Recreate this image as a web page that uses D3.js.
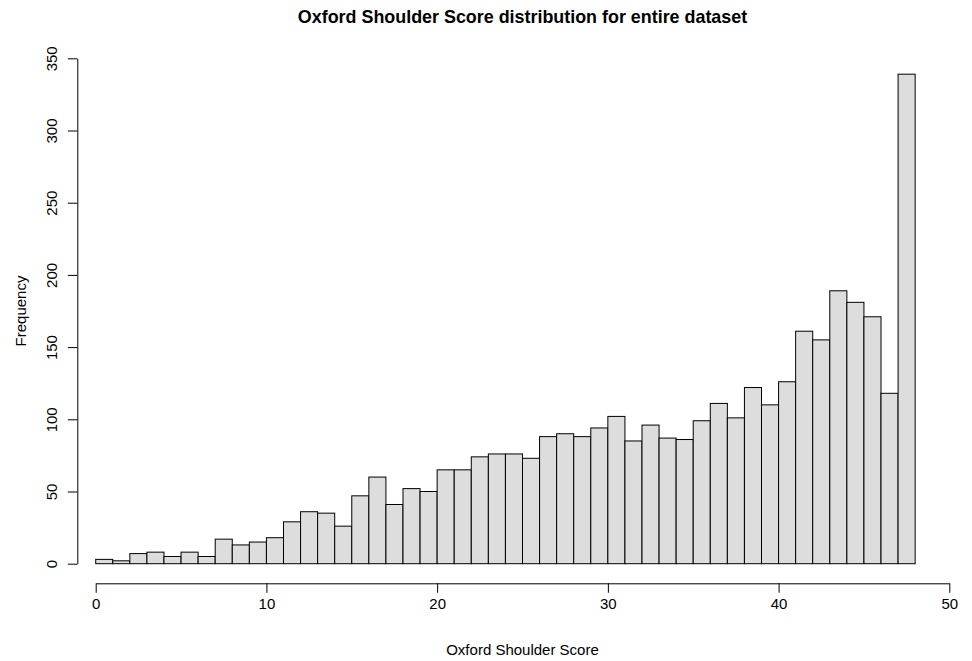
<!DOCTYPE html>
<html>
<head>
<meta charset="utf-8">
<script src="https://cdn.jsdelivr.net/npm/d3@7"></script>
<style>
  html, body { margin: 0; padding: 0; background: #fff; }
  svg { display: block; font-family: "Liberation Sans", Arial, Helvetica, sans-serif; }
</style>
</head>
<body>
<svg id="chart" width="972" height="661"></svg>
<script>
// Data: histogram bins [i, i+1) of Oxford Shoulder Score
const binStarts = d3.range(0, 48);
const frequencies = [3, 2, 7, 8, 5, 8, 5, 17, 13, 15,
                     18, 29, 36, 35, 26, 47, 60, 41, 52, 50,
                     65, 65, 74, 76, 76, 73, 88, 90, 88, 94,
                     102, 85, 96, 87, 86, 99, 111, 101, 122, 110,
                     126, 161, 155, 189, 181, 171, 118, 339];
const xTicks = [0, 10, 20, 30, 40, 50];
const yTicks = [0, 50, 100, 150, 200, 250, 300, 350];
const titleText = "Oxford Shoulder Score distribution for entire dataset";
const xLabel = "Oxford Shoulder Score";
const yLabel = "Frequency";

const svg = d3.select("#chart");
const x = d3.scaleLinear().domain([0, 50]).range([95.7, 949.3]);
const y = d3.scaleLinear().domain([0, 350]).range([563.7, 58.3]);

// Bars
svg.append("g").selectAll("rect")
  .data(binStarts.map((s, i) => ({ s, v: frequencies[i] })))
  .join("rect")
  .attr("x", d => x(d.s))
  .attr("y", d => y(d.v))
  .attr("width", d => x(d.s + 1) - x(d.s))
  .attr("height", d => y(0) - y(d.v))
  .attr("fill", "#dddddd")
  .attr("stroke", "#000")
  .attr("stroke-width", 1);

// X axis
const xAxis = svg.append("g")
  .attr("transform", "translate(0,583.3)")
  .call(d3.axisBottom(x).tickValues(xTicks).tickFormat(d3.format("d"))
        .tickSize(9.5).tickSizeOuter(0).tickPadding(6));
xAxis.selectAll("text").attr("font-size", 15).attr("fill", "#000")
  .attr("font-family", "Liberation Sans, Arial, sans-serif");
xAxis.selectAll("line, path").attr("stroke", "#000");

// Y axis
const yAxis = svg.append("g")
  .attr("transform", "translate(77.3,0)")
  .call(d3.axisLeft(y).tickValues(yTicks).tickFormat(d3.format("d"))
        .tickSize(9.5).tickSizeOuter(0));
yAxis.selectAll("text")
  .attr("font-size", 15).attr("fill", "#000")
  .attr("font-family", "Liberation Sans, Arial, sans-serif")
  .attr("transform", "rotate(-90)")
  .attr("x", 0).attr("y", -20.5).attr("dy", 0)
  .attr("text-anchor", "middle");
yAxis.selectAll("line, path").attr("stroke", "#000");

// Title
svg.append("text")
  .attr("x", x(25)).attr("y", 22.5)
  .attr("text-anchor", "middle")
  .attr("font-size", 17.9).attr("font-weight", "bold")
  .text(titleText);

// X label
svg.append("text")
  .attr("x", x(25)).attr("y", 655)
  .attr("text-anchor", "middle")
  .attr("font-size", 15)
  .text(xLabel);

// Y label
svg.append("text")
  .attr("transform", `translate(26,${(y(0) + y(350)) / 2}) rotate(-90)`)
  .attr("text-anchor", "middle")
  .attr("font-size", 15)
  .text(yLabel);
</script>
</body>
</html>
